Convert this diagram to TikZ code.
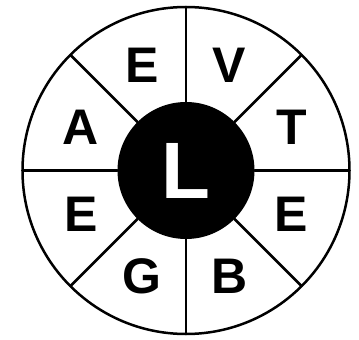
\documentclass[tikz,border=0pt]{standalone}
\usepackage{fontspec}
\setmainfont{Liberation Sans}
\begin{document}
\begin{tikzpicture}[x=1pt,y=1pt,line cap=round,line join=round,
    letter/.style={font=\fontsize{50}{50}\selectfont\bfseries,inner sep=0pt}]
\useasboundingbox (-186,-169.5) rectangle (173,170.5);
\node[circle,draw,line width=2.5pt,minimum size=327pt,inner sep=0pt,outer sep=0pt] (rim) at (0,0) {};
\node[circle,fill=black,minimum size=137pt,inner sep=0pt,outer sep=0pt] (hub) at (0,0) {};
\foreach \a in {0,45,...,315}
{
    \draw[line width=2.5pt] (hub.\a)--(rim.\a);
}
\foreach \a/\t/\n in {
    22.5/T/t1,
    67.5/V/v1,
    112.5/E/e1,
    157.5/A/a1,
    202.5/E/e2,
    247.5/G/g1,
    292.5/B/b1,
    337.5/E/e3
}
{
    \node[letter] (\n) at (\a:114) {\t};
}
\node[letter,text=white,font=\fontsize{80}{80}\selectfont\bfseries] (l1) at (0,0) {L};
\end{tikzpicture}
\end{document}
